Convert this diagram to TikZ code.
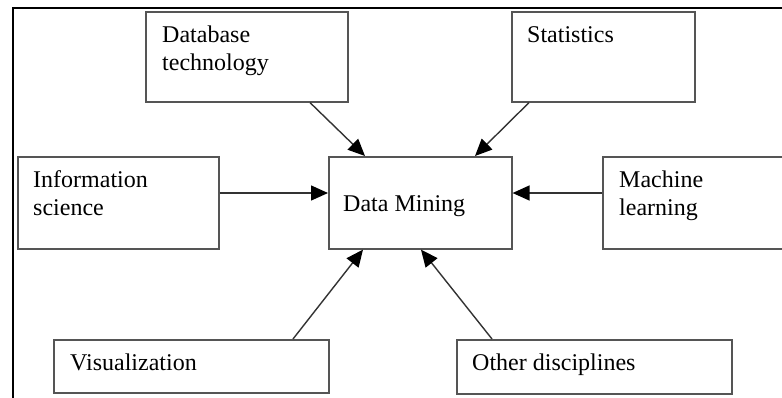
\documentclass[tikz,border=0pt]{standalone}
\usepackage{fontspec}
\setmainfont{Liberation Serif}
\usetikzlibrary{arrows.meta,calc}
\definecolor{boxgray}{HTML}{555555}
\definecolor{linegray}{HTML}{333333}
\begin{document}
\begin{tikzpicture}[x=1pt,y=-1pt,
  box/.style={draw=boxgray,line width=1.6pt,rectangle,inner sep=0pt,anchor=north west},
  lbl/.style={anchor=base west,inner sep=0pt,font=\fontsize{24}{28}\selectfont,align=left},
  conn/.style={draw=linegray,line width=1.4pt,-{Triangle[length=17pt,width=15pt,color=black]}}]
\clip (0,0) rectangle (782,397);
\fill[white] (0,0) rectangle (782,397);
% outer frame
\draw[black,line width=2pt] (13,400) -- (13,8) -- (790,8);
% boxes
\node[box,minimum width=202pt,minimum height=90pt] (db) at (145,11) {};
\node[box,minimum width=183pt,minimum height=90pt] (st) at (511,11) {};
\node[box,minimum width=201pt,minimum height=92pt] (is) at (17,156) {};
\node[box,minimum width=183pt,minimum height=92pt] (dm) at (328,156) {};
\node[box,minimum width=200pt,minimum height=92pt] (ml) at (602,156) {};
\node[box,minimum width=275pt,minimum height=53pt] (vi) at (53,339) {};
\node[box,minimum width=275pt,minimum height=54pt] (od) at (456,339) {};
% labels
\node[lbl] (tdb) at (162,70) {Database\\technology};
\node[lbl] (tst) at (527,42) {Statistics};
\node[lbl] (tis) at (33,215) {Information\\science};
\node[lbl] (tdm) at (343,211) {Data Mining};
\node[lbl] (tml) at (619,215) {Machine\\learning};
\node[lbl] (tvi) at (70,370) {Visualization};
\node[lbl] (tod) at (472,370) {Other disciplines};
% connectors
\draw[conn] ($(db.south west)+(165,0)$) -- ($(dm.north west)+(37,0)$);
\draw[conn] ($(st.south west)+(18,0)$) -- ($(dm.north west)+(147,0)$);
\draw[conn] ($(is.north east)+(0,37)$) -- ($(dm.north west)+(0,37)$);
\draw[conn] ($(ml.north west)+(0,37)$) -- ($(dm.north east)+(0,37)$);
\draw[conn] ($(vi.north west)+(240,0)$) -- ($(dm.south west)+(35,0)$);
\draw[conn] ($(od.north west)+(36,0)$) -- ($(dm.south west)+(93,0)$);
\end{tikzpicture}
\end{document}
